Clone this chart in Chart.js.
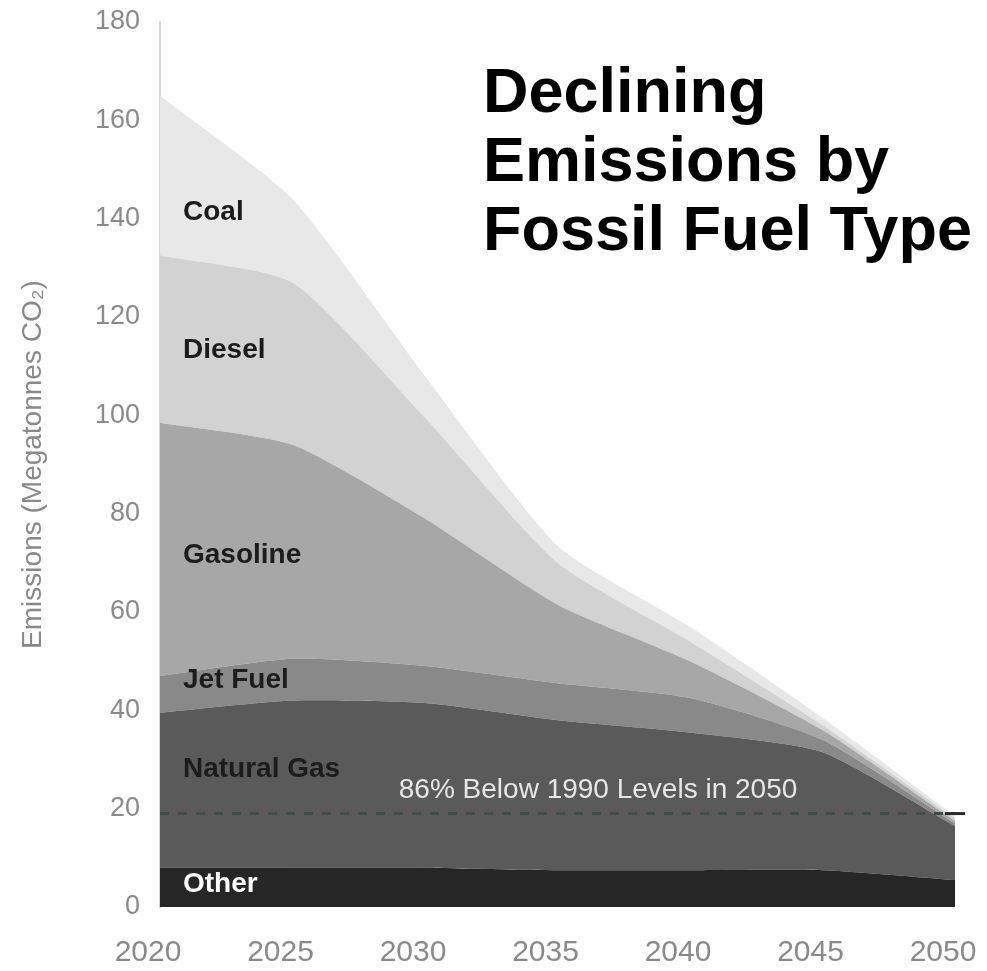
<!DOCTYPE html>
<html>
<head>
<meta charset="utf-8">
<script src="https://cdn.jsdelivr.net/npm/chart.js@4.4.0/dist/chart.umd.min.js"></script>
<style>
  html, body { margin: 0; padding: 0; background: #fff; }
  #wrap { position: relative; width: 987px; height: 971px; }
  #title {
    position: absolute; left: 483px; top: 56px;
    font: bold 63px "Liberation Sans", Arial, sans-serif;
    line-height: 69px; color: #000;
  }
</style>
</head>
<body>
<div id="wrap">
  <canvas id="chart"></canvas>
  <div id="title">Declining<br>Emissions by<br>Fossil Fuel Type</div>
</div>
<script>
// ---------- Data (Megatonnes CO2) ----------
const years = ["2020", "2025", "2030", "2035", "2040", "2045", "2050"];
const other = [8, 8, 8, 7.5, 7.5, 7.5, 5.5];
const naturalGas = [31.5, 34, 33.5, 30.5, 28, 24, 11];
const jetFuel = [7.5, 8.5, 7.5, 7.5, 7, 2.5, 0.5];
const gasoline = [51.5, 43.5, 30, 16, 7.5, 2, 0.5];
const diesel = [34, 33, 20.5, 8.5, 4, 1, 0.5];
const coal = [32.5, 17, 8.5, 3.5, 3, 1.5, 0.5];
const target = [19, 19, 19, 19, 19, 19, 19]; // 86% below 1990 levels
const yTicks = [0, 20, 40, 60, 80, 100, 120, 140, 160, 180];

const FONT = "'Liberation Sans', Arial, sans-serif";

// ---------- Area layers, bottom to top ----------
const layers = [
    { label: "Other", data: other, color: "#262626", text: "#ffffff", at: 4.7 },
    { label: "Natural Gas", data: naturalGas, color: "#5a5a5a", text: "#1c1c1c", at: 28 },
    { label: "Jet Fuel", data: jetFuel, color: "#898989", text: "#1c1c1c", at: 46.2 },
    { label: "Gasoline", data: gasoline, color: "#a7a7a7", text: "#1c1c1c", at: 71.6 },
    { label: "Diesel", data: diesel, color: "#d2d2d2", text: "#1c1c1c", at: 113.3 },
    { label: "Coal", data: coal, color: "#e8e8e8", text: "#1c1c1c", at: 141.3 }
];

const datasets = layers.map((l, i) => ({
    label: l.label,
    data: l.data,
    backgroundColor: l.color,
    borderWidth: 0,
    pointRadius: 0,
    tension: 0.2,
    fill: i === 0 ? "origin" : "-1",
    stack: "fuel",
    order: 2
}));

// Target line sits on its own stack so it is not added to the areas
datasets.push({
    label: "Target",
    data: target,
    borderColor: "#414c4c",
    borderWidth: 3,
    borderDash: [9, 9],
    pointRadius: target.map((v, i) => (i === target.length - 1 ? 10 : 0)),
    pointStyle: "line",
    pointBorderColor: "#2a2a2a",
    pointBorderWidth: 3,
    fill: false,
    stack: "target",
    order: 0
});

// ---------- Labels drawn inside the areas ----------
const areaLabels = {
    id: "areaLabels",
    afterDatasetsDraw(chart) {
        const { ctx, scales: { x, y } } = chart;
        ctx.save();
        ctx.textBaseline = "middle";
        ctx.font = "bold 28px " + FONT;
        layers.forEach(l => {
            ctx.fillStyle = l.text;
            ctx.fillText(l.label, x.getPixelForValue(0) + 23, y.getPixelForValue(l.at));
        });
        ctx.font = "28px " + FONT;
        ctx.fillStyle = "#e6e6e6";
        ctx.textAlign = "center";
        ctx.fillText("86% Below 1990 Levels in 2050", x.getPixelForDecimal(0.551), y.getPixelForValue(23.8));
        ctx.restore();
    }
};

// ---------- Chart ----------
new Chart(document.getElementById("chart"), {
    type: "line",
    data: { labels: years, datasets },
    plugins: [areaLabels],
    options: {
        responsive: true,
        maintainAspectRatio: false,
        animation: false,
        layout: { padding: { top: 22, right: 32, left: 0, bottom: 0 } },
        plugins: { legend: { display: false }, tooltip: { enabled: false } },
        scales: {
            x: {
                stacked: true,
                offset: false,
                grid: { display: false, drawTicks: false },
                border: { display: false },
                ticks: { color: "#8a8a8a", font: { size: 30, family: FONT }, padding: 28, maxRotation: 0, labelOffset: -12 },
                afterFit(scale) {
                    scale.height = 64;
                    scale.paddingLeft = 0;
                    scale.paddingRight = 0;
                }
            },
            y: {
                stacked: true,
                min: 0,
                max: 180,
                grid: { display: false, drawTicks: false },
                border: { display: true, color: "#d4d4d4", width: 2 },
                afterBuildTicks(scale) { scale.ticks = yTicks.map(v => ({ value: v })); },
                ticks: { color: "#8a8a8a", font: { size: 27, family: FONT }, padding: 20 },
                title: {
                    display: true,
                    text: "Emissions (Megatonnes CO₂)",
                    color: "#8a8a8a",
                    font: { size: 28, family: FONT },
                    padding: { top: 16, bottom: 0 }
                },
                afterFit(scale) {
                    scale.width = 160;
                    scale.paddingTop = 0;
                    scale.paddingBottom = 0;
                }
            }
        }
    }
});
</script>
</body>
</html>
